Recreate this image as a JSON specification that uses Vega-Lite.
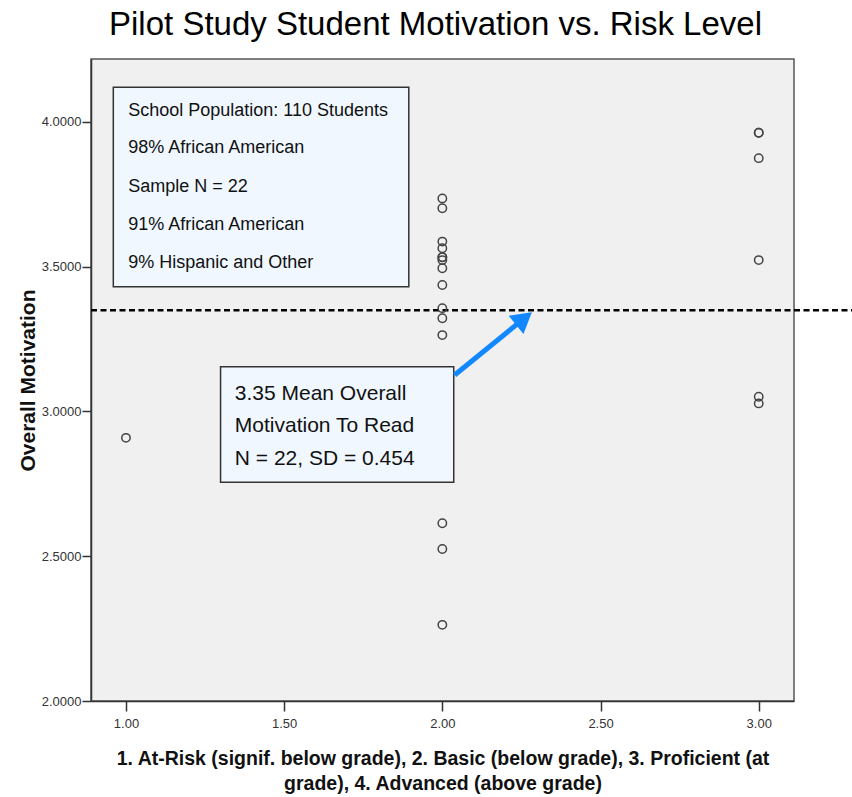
{
  "$schema": "https://vega.github.io/schema/vega-lite/v6.json",
  "width": 703,
  "height": 642,
  "autosize": {"type": "none"},
  "padding": {"left": 91, "top": 59, "right": 58, "bottom": 96},
  "background": "white",
  "config": {
    "font": "Liberation Sans",
    "view": {"fill": "#f0f0f0", "stroke": "#555555", "strokeWidth": 1.5}
  },
  "title": {
    "text": "Pilot Study Student Motivation vs. Risk Level",
    "font": "Liberation Sans",
    "fontSize": 33,
    "fontWeight": "normal",
    "color": "#000000",
    "anchor": "middle",
    "frame": "group",
    "offset": 17,
    "dx": -7
  },
  "datasets": {
    "scores": [
      {"x": 1, "y": 2.909},
      {"x": 2, "y": 3.736},
      {"x": 2, "y": 3.702},
      {"x": 2, "y": 3.587},
      {"x": 2, "y": 3.564},
      {"x": 2, "y": 3.533},
      {"x": 2, "y": 3.533},
      {"x": 2, "y": 3.523},
      {"x": 2, "y": 3.495},
      {"x": 2, "y": 3.437},
      {"x": 2, "y": 3.357},
      {"x": 2, "y": 3.322},
      {"x": 2, "y": 3.264},
      {"x": 2, "y": 2.614},
      {"x": 2, "y": 2.525},
      {"x": 2, "y": 2.263},
      {"x": 3, "y": 3.963},
      {"x": 3, "y": 3.963},
      {"x": 3, "y": 3.875},
      {"x": 3, "y": 3.523},
      {"x": 3, "y": 3.051},
      {"x": 3, "y": 3.028}
    ],
    "boxes": [
      {"x": 0.960, "xe": 1.894, "y": 4.120, "ye": 3.431},
      {"x": 1.299, "xe": 2.036, "y": 3.155, "ye": 2.756}
    ],
    "notes_school": [
      {"x": 1.007, "y": 4.039, "label": "School Population: 110 Students"},
      {"x": 1.007, "y": 3.909, "label": "98% African American"},
      {"x": 1.007, "y": 3.777, "label": "Sample N = 22"},
      {"x": 1.007, "y": 3.644, "label": "91% African American"},
      {"x": 1.007, "y": 3.512, "label": "9% Hispanic and Other"}
    ],
    "notes_mean": [
      {"x": 1.344, "y": 3.059, "label": "3.35 Mean Overall"},
      {"x": 1.344, "y": 2.950, "label": "Motivation To Read"},
      {"x": 1.344, "y": 2.836, "label": "N = 22, SD = 0.454"}
    ],
    "mean_line": [{"x": 0.8895, "xe": 3.30, "y": 3.35}],
    "arrow_shaft": [{"x": 2.039, "xe": 2.258, "y": 3.126, "ye": 3.321}],
    "arrow_head": [{"x": 2.258, "y": 3.321}]
  },
  "encoding": {
    "x": {
      "field": "x",
      "type": "quantitative",
      "scale": {"domain": [0.8895, 3.1115], "nice": false, "zero": false},
      "axis": {
        "title": [
          "1. At-Risk (signif. below grade), 2. Basic (below grade), 3. Proficient (at",
          "grade), 4. Advanced (above grade)"
        ],
        "values": [1, 1.5, 2, 2.5, 3],
        "format": ".2f",
        "grid": false,
        "tickSize": 10,
        "tickColor": "#333333",
        "tickWidth": 1.5,
        "domainColor": "#333333",
        "domainWidth": 1.5,
        "labelFont": "Liberation Sans",
        "labelFontSize": 13,
        "labelColor": "#333333",
        "labelPadding": 6,
        "titleFont": "Liberation Sans",
        "titleFontSize": 19.5,
        "titleFontWeight": "bold",
        "titleColor": "#111111",
        "titlePadding": 19,
        "titleLineHeight": 25
      }
    },
    "y": {
      "field": "y",
      "type": "quantitative",
      "scale": {"domain": [2, 4.2176], "nice": false, "zero": false},
      "axis": {
        "title": "Overall Motivation",
        "values": [2, 2.5, 3, 3.5, 4],
        "format": ".4f",
        "grid": false,
        "tickSize": 9,
        "tickColor": "#333333",
        "tickWidth": 1.5,
        "domainColor": "#333333",
        "domainWidth": 1.5,
        "labelFont": "Liberation Sans",
        "labelFontSize": 13,
        "labelColor": "#333333",
        "labelPadding": 1,
        "titleFont": "Liberation Sans",
        "titleFontSize": 21,
        "titleFontWeight": "bold",
        "titleColor": "#111111",
        "titlePadding": 3
      }
    }
  },
  "layer": [
    {
      "data": {"name": "boxes"},
      "mark": {"type": "rect", "fill": "#f0f7ff", "stroke": "#333333", "strokeWidth": 1.5},
      "encoding": {
        "x2": {"field": "xe"},
        "y2": {"field": "ye"}
      }
    },
    {
      "data": {"name": "notes_school"},
      "mark": {"type": "text", "align": "left", "baseline": "middle", "font": "Liberation Sans", "fontSize": 18, "color": "#111111"},
      "encoding": {"text": {"field": "label"}}
    },
    {
      "data": {"name": "notes_mean"},
      "mark": {"type": "text", "align": "left", "baseline": "middle", "font": "Liberation Sans", "fontSize": 21, "color": "#111111"},
      "encoding": {"text": {"field": "label"}}
    },
    {
      "data": {"name": "mean_line"},
      "mark": {"type": "rule", "color": "#000000", "strokeWidth": 2.5, "strokeDash": [6, 3.5], "clip": false},
      "encoding": {"x2": {"field": "xe"}}
    },
    {
      "data": {"name": "arrow_shaft"},
      "mark": {"type": "rule", "color": "#1188ff", "strokeWidth": 5},
      "encoding": {
        "x2": {"field": "xe"},
        "y2": {"field": "ye"}
      }
    },
    {
      "data": {"name": "arrow_head"},
      "mark": {"type": "point", "shape": "triangle-up", "filled": true, "color": "#1188ff", "opacity": 1, "size": 550, "angle": 51}
    },
    {
      "data": {"name": "scores"},
      "mark": {"type": "point", "shape": "circle", "filled": false, "stroke": "#444444", "strokeWidth": 1.5, "size": 70, "opacity": 1}
    }
  ]
}
